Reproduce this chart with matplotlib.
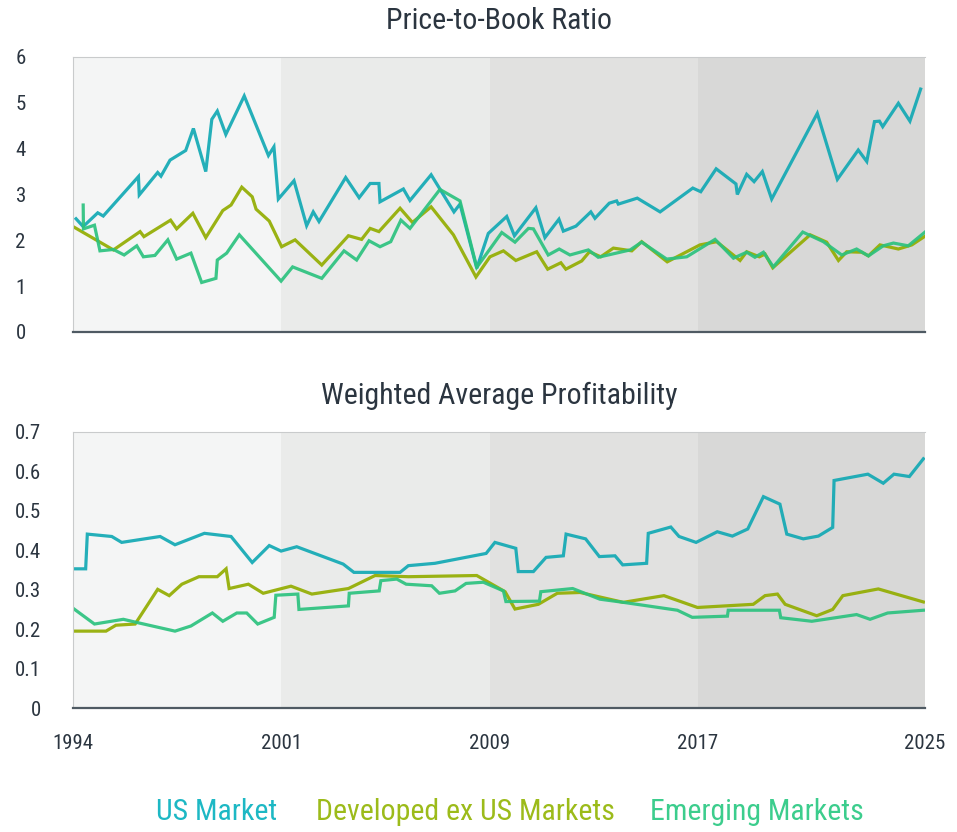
import matplotlib
matplotlib.use("Agg")
import matplotlib.pyplot as plt
from matplotlib import font_manager

# pick a condensed family if one is installed
def pick_font(names):
    for n in names:
        try:
            font_manager.findfont(n, fallback_to_default=False)
            return n
        except Exception:
            pass
    return "DejaVu Sans"

FONT = pick_font(["Liberation Sans Narrow", "Roboto Condensed", "Open Sans Condensed", "DejaVu Sans"])
plt.rcParams["font.family"] = [FONT, "DejaVu Sans"]

# ---- data (decimal years) ----
series_names = ["US Market", "Developed ex US Markets", "Emerging Markets"]

pb_us_x = [1994.11, 1994.37, 1994.90, 1995.10, 1996.38, 1996.41, 1997.08, 1997.20, 1997.53, 1998.10,
           1998.38, 1998.83, 1999.05, 1999.25, 1999.56, 2000.23, 2001.11, 2001.31, 2001.47, 2002.04,
           2002.50, 2002.74, 2002.95, 2003.92, 2004.41, 2004.81, 2005.13, 2005.17, 2006.02, 2006.26,
           2007.03, 2007.86, 2008.08, 2008.69, 2009.11, 2009.78, 2010.06, 2010.84, 2011.17, 2011.68,
           2011.84, 2012.30, 2012.84, 2012.99, 2013.51, 2013.78, 2013.84, 2014.53, 2015.36, 2016.55,
           2016.84, 2017.40, 2018.12, 2018.17, 2018.51, 2018.78, 2019.08, 2019.42, 2021.08, 2021.81,
           2022.57, 2022.88, 2023.16, 2023.34, 2023.46, 2024.03, 2024.45, 2024.84]
pb_us_y = [2.47, 2.30, 2.60, 2.53, 3.39, 2.99, 3.48, 3.40, 3.75, 3.96,
           4.44, 3.50, 4.64, 4.82, 4.31, 5.15, 3.85, 4.04, 2.90, 3.30,
           2.32, 2.62, 2.41, 3.37, 2.93, 3.24, 3.24, 2.84, 3.12, 2.87,
           3.43, 2.62, 2.79, 1.39, 2.15, 2.52, 2.10, 2.71, 2.06, 2.46,
           2.20, 2.31, 2.62, 2.48, 2.81, 2.86, 2.79, 2.92, 2.62, 3.14,
           3.06, 3.56, 3.23, 3.00, 3.44, 3.28, 3.50, 2.90, 4.77, 3.33,
           3.97, 3.72, 4.59, 4.60, 4.48, 4.99, 4.60, 5.30]

pb_dev_x = [1994.00, 1995.47, 1996.44, 1996.58, 1997.55, 1997.77, 1998.36, 1998.83, 1999.45, 1999.75,
            2000.14, 2000.52, 2000.66, 2001.14, 2001.59, 2002.08, 2003.05, 2004.02, 2004.50, 2004.81,
            2005.13, 2005.90, 2006.35, 2007.03, 2007.84, 2008.66, 2009.17, 2009.66, 2010.11, 2010.87,
            2011.27, 2011.75, 2011.93, 2012.51, 2012.79, 2013.20, 2013.66, 2014.33, 2014.69, 2015.62,
            2016.81, 2017.42, 2018.27, 2018.51, 2018.97, 2019.18, 2019.46, 2020.82, 2021.42, 2021.85,
            2022.15, 2022.70, 2022.94, 2023.36, 2024.03, 2024.52, 2025.00]
pb_dev_y = [2.30, 1.79, 2.19, 2.08, 2.44, 2.25, 2.59, 2.06, 2.65, 2.77,
            3.16, 2.95, 2.68, 2.42, 1.86, 2.01, 1.46, 2.10, 2.02, 2.26,
            2.19, 2.70, 2.39, 2.73, 2.12, 1.20, 1.64, 1.77, 1.56, 1.75,
            1.37, 1.51, 1.37, 1.55, 1.75, 1.64, 1.83, 1.77, 1.97, 1.53,
            1.90, 1.97, 1.56, 1.75, 1.64, 1.70, 1.40, 2.12, 1.96, 1.56,
            1.75, 1.74, 1.66, 1.90, 1.81, 1.90, 2.09]

pb_em_x = [1994.37, 1994.38, 1994.78, 1994.98, 1995.47, 1995.86, 1996.32, 1996.56, 1996.98, 1997.45,
           1997.77, 1998.29, 1998.68, 1999.20, 1999.25, 1999.59, 2000.05, 2001.57, 2001.99, 2003.05,
           2003.86, 2004.32, 2004.77, 2005.17, 2005.56, 2005.93, 2006.26, 2007.35, 2008.08, 2008.69,
           2009.60, 2010.08, 2010.57, 2010.75, 2011.29, 2011.69, 2012.08, 2012.75, 2013.11, 2014.27,
           2014.69, 2015.60, 2016.33, 2017.36, 2018.03, 2018.51, 2018.81, 2019.12, 2019.48, 2020.55,
           2021.30, 2021.97, 2022.51, 2022.94, 2023.48, 2023.85, 2024.39, 2025.00]
pb_em_y = [2.77, 2.25, 2.33, 1.77, 1.80, 1.68, 1.88, 1.64, 1.67, 2.01,
           1.59, 1.72, 1.08, 1.17, 1.57, 1.72, 2.12, 1.11, 1.42, 1.17,
           1.77, 1.57, 1.99, 1.86, 1.97, 2.44, 2.26, 3.11, 2.86, 1.41,
           2.17, 1.96, 2.26, 2.25, 1.68, 1.81, 1.68, 1.79, 1.63, 1.79,
           1.96, 1.59, 1.64, 2.02, 1.61, 1.74, 1.63, 1.74, 1.42, 2.18,
           1.97, 1.68, 1.81, 1.66, 1.88, 1.94, 1.88, 2.18]

pr_us_x = [1994.04, 1994.46, 1994.52, 1995.41, 1995.77, 1997.17, 1997.71, 1998.78, 1999.75, 2000.52,
           2001.14, 2001.57, 2002.14, 2003.83, 2004.22, 2005.90, 2006.20, 2007.17, 2009.03, 2009.35,
           2010.11, 2010.20, 2010.75, 2011.21, 2011.84, 2011.94, 2012.65, 2013.15, 2013.72, 2014.00,
           2014.87, 2014.93, 2015.75, 2016.05, 2016.67, 2017.44, 2017.99, 2018.55, 2019.12, 2019.72,
           2019.97, 2020.57, 2021.12, 2021.64, 2021.69, 2022.92, 2023.48, 2023.87, 2024.43, 2024.94]
pr_us_y = [0.353, 0.353, 0.441, 0.435, 0.420, 0.435, 0.414, 0.443, 0.435, 0.369,
           0.412, 0.398, 0.409, 0.365, 0.344, 0.344, 0.361, 0.367, 0.392, 0.420,
           0.405, 0.346, 0.346, 0.382, 0.386, 0.441, 0.429, 0.384, 0.386, 0.363,
           0.367, 0.443, 0.459, 0.435, 0.420, 0.447, 0.436, 0.454, 0.536, 0.517,
           0.441, 0.429, 0.436, 0.458, 0.577, 0.593, 0.570, 0.593, 0.587, 0.632]

pr_dev_x = [1994.04, 1995.20, 1995.56, 1996.26, 1997.08, 1997.50, 1997.96, 1998.58, 1999.25, 1999.57,
            1999.68, 2000.38, 2000.92, 2001.93, 2002.69, 2004.02, 2004.99, 2006.20, 2008.69, 2009.72,
            2010.08, 2010.93, 2011.62, 2012.45, 2014.02, 2015.50, 2016.72, 2018.75, 2019.18, 2019.63,
            2019.91, 2021.06, 2021.64, 2022.01, 2023.30, 2024.94]
pr_dev_y = [0.195, 0.195, 0.210, 0.213, 0.301, 0.285, 0.314, 0.333, 0.333, 0.353,
            0.303, 0.314, 0.291, 0.309, 0.289, 0.303, 0.336, 0.333, 0.336, 0.295,
            0.251, 0.263, 0.291, 0.293, 0.268, 0.285, 0.255, 0.263, 0.285, 0.289,
            0.263, 0.234, 0.250, 0.285, 0.302, 0.269]

pr_em_x = [1994.04, 1994.78, 1995.83, 1996.32, 1997.71, 1998.29, 1999.07, 1999.45, 1999.96, 2000.32,
           2000.72, 2001.32, 2001.38, 2002.18, 2002.22, 2004.02, 2004.05, 2005.14, 2005.20, 2005.78,
           2006.12, 2007.05, 2007.33, 2007.90, 2008.30, 2008.93, 2009.66, 2009.75, 2010.97, 2011.02,
           2012.18, 2013.17, 2014.02, 2015.99, 2016.53, 2017.81, 2017.84, 2019.70, 2019.75, 2020.88,
           2022.51, 2023.00, 2023.64, 2024.94]
pr_em_y = [0.251, 0.213, 0.225, 0.217, 0.195, 0.208, 0.241, 0.220, 0.241, 0.241,
           0.213, 0.230, 0.286, 0.289, 0.250, 0.259, 0.291, 0.297, 0.323, 0.327,
           0.314, 0.310, 0.291, 0.297, 0.316, 0.319, 0.297, 0.270, 0.271, 0.295,
           0.303, 0.276, 0.268, 0.248, 0.230, 0.233, 0.248, 0.248, 0.229, 0.220,
           0.237, 0.225, 0.241, 0.248]

# period bands and their tick labels
band_edges = [1994.0, 2001.57, 2009.17, 2016.74, 2025.0]
band_labels = ["1994", "2001", "2009", "2017", "2025"]
band_colors = ["#f4f5f5", "#eaebea", "#e1e1e0", "#d8d8d7"]

line_colors = ["#12a9b4", "#93ad00", "#2cc27f"]
legend_colors = ["#1db8c4", "#9cbb1a", "#3ccd8d"]
text_color = "#2b3540"

fig = plt.figure(figsize=(9.57, 8.32), dpi=100)
ax1 = fig.add_axes([0.0763, 0.6010, 0.8903, 0.3305])
ax2 = fig.add_axes([0.0763, 0.1490, 0.8903, 0.3318])

panels = [
    (ax1, "Price-to-Book Ratio", [(pb_us_x, pb_us_y), (pb_dev_x, pb_dev_y), (pb_em_x, pb_em_y)],
     6, [0, 1, 2, 3, 4, 5, 6], ["0", "1", "2", "3", "4", "5", "6"], 34),
    (ax2, "Weighted Average Profitability", [(pr_us_x, pr_us_y), (pr_dev_x, pr_dev_y), (pr_em_x, pr_em_y)],
     0.7, [0, 0.1, 0.2, 0.3, 0.4, 0.5, 0.6, 0.7], ["0", "0.1", "0.2", "0.3", "0.4", "0.5", "0.6", "0.7"], 23),
]

for ax, title, data, ymax, yticks, ylabels, ypad in panels:
    for i in range(4):
        ax.axvspan(band_edges[i], band_edges[i + 1], color=band_colors[i], lw=0, zorder=0)
    for (xs, ys), c in zip(data, line_colors):
        ax.plot(xs, ys, color=c, lw=2.3, alpha=0.92, solid_joinstyle="miter", zorder=2)
    ax.set_xlim(band_edges[0], band_edges[-1])
    ax.set_ylim(0, ymax)
    ax.set_yticks(yticks)
    ax.set_yticklabels(ylabels)
    ax.tick_params(axis="y", length=0, pad=ypad, labelsize=15, labelcolor=text_color)
    ax.set_title(title, fontsize=21.5, color=text_color, pad=20)
    for s in ["top", "left"]:
        ax.spines[s].set_color("#c9cbcc")
        ax.spines[s].set_linewidth(0.8)
    ax.spines["right"].set_visible(False)
    ax.spines["bottom"].set_color("#4f5a63")
    ax.spines["bottom"].set_linewidth(1.6)
    ax.set_facecolor("white")

ax1.set_xticks([])
ax2.set_xticks(band_edges)
ax2.set_xticklabels(band_labels)
ax2.tick_params(axis="x", length=0, pad=19, labelsize=15, labelcolor=text_color)

# legend as coloured text
legend_x = [0.226, 0.486, 0.791]
for name, c, x in zip(series_names, legend_colors, legend_x):
    fig.text(x, 0.007, name, color=c, fontsize=21.5, ha="center", va="bottom")

fig.savefig("out.png", dpi=100, facecolor="white")
